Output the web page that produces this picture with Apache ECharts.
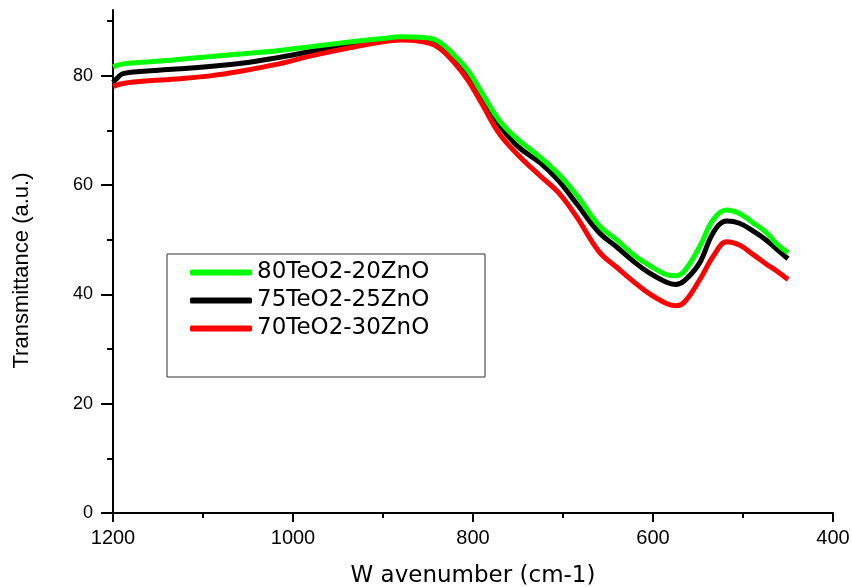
<!DOCTYPE html>
<html>
<head>
<meta charset="utf-8">
<script src="https://cdn.jsdelivr.net/npm/echarts@6/dist/echarts.min.js"></script>
<style>
html,body{margin:0;padding:0;background:#fff;}
#chart{width:852px;height:587px;}
</style>
</head>
<body>
<div id="chart"></div>
<script>
const wavenumbers = [1200,1195,1190,1180,1130,1090,1055,1020,980,940,900,880,860,840,820,805,790,770,750,725,705,685,660,640,620,605,585,575,565,548,533,518,504,489,474,463,450];
const green80 = [81.6,81.9,82.1,82.3,82.9,83.5,84.0,84.5,85.3,86.1,86.8,87.1,87.0,86.4,83.6,80.8,76.8,71.6,68.3,65.0,62.0,58.2,52.6,49.9,47.0,45.4,43.6,43.4,44.3,48.8,53.7,55.4,54.8,53.1,51.3,49.3,47.6];
const black75 = [78.8,79.6,80.3,80.6,81.2,81.7,82.3,83.2,84.4,85.6,86.5,86.9,86.8,86.0,83.0,80.1,76.2,70.8,67.0,64.0,60.8,56.6,51.3,48.6,45.8,44.0,42.2,41.8,42.5,45.8,51.3,53.4,53.0,51.6,49.9,48.3,46.5];
const red70 = [78.0,78.3,78.5,78.8,79.4,80.0,80.9,82.0,83.6,85.0,86.2,86.5,86.3,85.3,82.2,79.0,74.8,69.2,65.5,61.6,58.6,54.2,47.8,44.9,42.1,40.2,38.3,37.9,38.6,42.7,47.0,49.6,49.0,47.3,45.5,44.3,42.7];
const seriesNames = ['80TeO2-20ZnO','75TeO2-25ZnO','70TeO2-30ZnO'];
const yMajorTicks = [0,20,40,60,80];
const yMinorTicks = [10,30,50,70,90];

function pairs(ys){ return wavenumbers.map((w,i)=>[w, ys[i]]); }

const chart = echarts.init(document.getElementById('chart'), null, {renderer:'canvas'});
const axisFont = "'Liberation Sans', Arial, sans-serif";
chart.setOption({
  backgroundColor:'#fff',
  animation:false,
  grid:{left:113,right:19,top:10,bottom:74,containLabel:false,outerBoundsMode:'none'},
  xAxis:{
    type:'value', inverse:true, min:400, max:1200, interval:200,
    axisLine:{show:true,lineStyle:{color:'#000',width:2}},
    axisTick:{show:true,inside:false,length:9,lineStyle:{color:'#000',width:2}},
    minorTick:{show:true,splitNumber:2,length:5,lineStyle:{color:'#000',width:2}},
    splitLine:{show:false}, minorSplitLine:{show:false},
    axisLabel:{color:'#000',fontSize:20,fontFamily:axisFont,margin:15,formatter:function(v){return String(v);}},
    name:'W avenumber (cm-1)', nameLocation:'middle', nameGap:52,
    nameTextStyle:{color:'#000',fontSize:23,fontFamily:"'DejaVu Sans', sans-serif"}
  },
  yAxis:[{
    type:'value', min:0, max:92,
    axisLine:{show:true,lineStyle:{color:'#000',width:2}},
    axisTick:{show:true,length:12,customValues:yMajorTicks,lineStyle:{color:'#000',width:2}},
    axisLabel:{color:'#000',fontSize:18,fontFamily:axisFont,margin:20,customValues:yMajorTicks},
    splitLine:{show:false},
    name:'Transmittance (a.u.)', nameLocation:'middle', nameGap:80,
    nameTextStyle:{color:'#000',fontSize:22,fontFamily:axisFont,padding:[0,18,0,0]}
  },{
    type:'value', min:0, max:92, position:'left',
    axisLine:{show:false},
    axisTick:{show:true,length:6,customValues:yMinorTicks,lineStyle:{color:'#000',width:2}},
    axisLabel:{show:false},
    splitLine:{show:false}
  }],
  legend:{
    data:seriesNames,
    orient:'vertical', left:190, top:261, padding:0,
    itemWidth:62, itemHeight:6, itemGap:5,
    textStyle:{color:'#000',fontSize:23,fontFamily:"'DejaVu Sans', sans-serif"},
    icon:'roundRect'
  },
  graphic:[{
    type:'rect', shape:{x:167,y:254,width:318,height:123},
    style:{fill:'none',stroke:'#333',lineWidth:1}, z:-1
  }],
  series:[
    {name:seriesNames[1],type:'line',data:pairs(black75),showSymbol:false,symbol:'none',smooth:0.4,
     lineStyle:{color:'#000',width:5},itemStyle:{color:'#000'},z:2},
    {name:seriesNames[2],type:'line',data:pairs(red70),showSymbol:false,symbol:'none',smooth:0.4,
     lineStyle:{color:'#ff0000',width:5},itemStyle:{color:'#ff0000'},z:3},
    {name:seriesNames[0],type:'line',data:pairs(green80),showSymbol:false,symbol:'none',smooth:0.4,
     lineStyle:{color:'#00ff00',width:5},itemStyle:{color:'#00ff00'},z:4}
  ]
});
</script>
</body>
</html>
